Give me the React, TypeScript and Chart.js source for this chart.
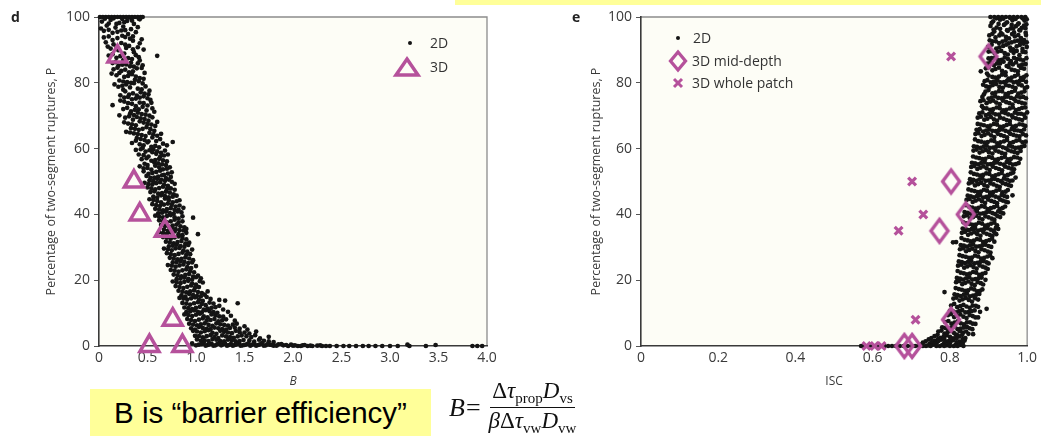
import React, { useEffect, useRef } from 'react';
import { Chart, registerables } from 'chart.js';

Chart.register(...registerables);

const MAGENTA = '#b5519b';
const DOT = '#141414';

// ---------- Panel d : P versus B ----------
const dXTicks = [0, 0.5, 1.0, 1.5, 2.0, 2.5, 3.0, 3.5, 4.0];
const yTicks = [0, 20, 40, 60, 80, 100];

const d2D: [number, number][] = [
  [0.01,100],[0.04,100],[0.07,100],[0.1,100],[0.13,100],[0.16,100],[0.19,100],[0.22,100],[0.25,100],[0.28,100],[0.31,100],[0.34,100],[0.37,100],[0.4,100],[0.43,100],[0.45,100],
  [0.03,98.6],[0.12,99.1],[0.21,98.2],[0.29,98.8],[0.36,97.9],[0.42,99.3],[0.08,97.4],[0.17,96.8],[0.25,97.1],[0.33,96.3],[0.4,96.9],[0.05,95.8],[0.14,95.2],[0.23,95.9],[0.3,94.8],[0.38,95.4],
  [0.1,94.1],[0.19,93.6],[0.27,93.9],[0.35,92.8],[0.44,93.2],[0.07,92.3],[0.15,91.7],[0.23,92.1],[0.31,91.2],[0.4,90.8],[0.12,90.4],[0.2,89.9],[0.28,90.6],[0.36,89.3],[0.46,90.1],[0.6,88.2],
  [0.14,88.7],[0.22,88.1],[0.3,87.5],[0.38,88.4],[0.25,86.9],[0.17,86.3],[0.33,86.1],[0.42,86.8],[0.2,85.2],[0.28,85.6],[0.36,84.9],[0.45,85.3],
  [0.15,84.1],[0.23,83.6],[0.31,83.2],[0.39,84.4],[0.47,83.0],[0.18,82.3],[0.26,81.8],[0.34,82.6],[0.42,81.4],[0.21,80.7],[0.29,80.2],[0.37,80.9],[0.45,79.8],[0.16,79.5],
  [0.24,79.1],[0.32,78.6],[0.4,78.2],[0.48,78.9],[0.27,77.4],[0.35,76.8],[0.43,77.1],[0.51,76.5],[0.22,76.2],[0.3,75.7],[0.38,75.2],[0.46,75.9],[0.53,74.8],
  [0.14,73.2],[0.26,74.3],[0.34,73.6],[0.42,74.0],[0.5,73.1],[0.29,72.4],[0.37,71.8],[0.45,72.7],[0.55,72.2],[0.21,70.1],[0.32,70.6],[0.4,70.9],[0.48,70.3],[0.57,71.2],
  [0.27,69.4],[0.35,68.8],[0.43,69.2],[0.51,68.5],[0.3,67.6],[0.38,67.1],[0.46,67.9],[0.54,67.3],[0.6,68.1],[0.33,66.2],[0.41,65.7],[0.49,66.5],[0.57,65.4],[0.28,65.1],
  [0.36,64.6],[0.44,64.1],[0.52,64.8],[0.6,63.9],[0.39,63.2],[0.47,62.6],[0.55,63.4],[0.63,62.9],[0.76,62.0],[0.34,61.7],[0.42,61.3],[0.5,61.9],[0.58,60.8],[0.66,61.5],[0.45,60.2],
  [0.38,59.6],[0.48,59.1],[0.56,59.8],[0.64,58.7],[0.41,58.2],[0.51,57.6],[0.59,58.4],[0.67,57.9],[0.44,56.8],[0.54,56.3],[0.62,56.9],[0.7,56.1],[0.47,55.4],[0.57,55.8],[0.65,55.2],
  [0.42,54.6],[0.5,54.1],[0.58,54.8],[0.66,53.7],[0.73,54.3],[0.46,53.1],[0.55,52.6],[0.63,53.3],[0.71,52.4],[0.49,51.7],[0.57,51.2],[0.65,51.9],[0.74,51.4],[0.52,50.3],[0.6,50.8],[0.68,50.2],
  [0.47,49.6],[0.55,49.1],[0.63,49.8],[0.71,48.7],[0.78,49.3],[0.5,48.2],[0.58,47.6],[0.66,48.4],[0.74,47.9],[0.53,46.8],[0.61,46.3],[0.69,46.9],[0.77,46.1],[0.56,45.4],[0.64,45.8],[0.72,45.2],[0.8,45.7],
  [0.52,44.6],[0.6,44.1],[0.68,44.8],[0.76,43.7],[0.83,44.3],[0.55,43.1],[0.63,42.6],[0.71,43.3],[0.79,42.4],[0.58,41.7],[0.66,41.2],[0.74,41.9],[0.82,41.4],[0.87,42.0],[0.61,40.3],[0.69,40.8],[0.77,40.2],[0.85,40.6],
  [0.58,39.6],[0.66,39.1],[0.74,39.8],[0.82,38.7],[0.97,39.0],[0.62,38.2],[0.7,37.6],[0.78,38.4],[0.86,37.9],[0.64,36.8],[0.72,36.3],[0.8,36.9],[0.88,36.1],[0.67,35.4],[0.75,35.8],[0.83,35.2],[0.9,35.6],
  [0.62,34.6],[0.7,34.1],[0.78,34.8],[0.86,33.7],[1.02,34.0],[0.66,33.1],[0.74,32.6],[0.82,33.3],[0.9,32.4],[0.69,31.7],[0.77,31.2],[0.85,31.9],[0.93,31.4],[0.72,30.3],[0.8,30.8],[0.88,30.2],
  [0.67,29.6],[0.75,29.1],[0.83,29.8],[0.91,28.7],[0.96,29.3],[0.7,28.2],[0.78,27.6],[0.86,28.4],[0.94,27.9],[0.73,26.8],[0.81,26.3],[0.89,26.9],[0.97,26.1],[0.76,25.4],[0.84,25.8],[0.92,25.2],
  [0.71,24.6],[0.79,24.1],[0.87,24.8],[0.95,23.7],[1.0,24.3],[0.74,23.1],[0.82,22.6],[0.9,23.3],[0.98,22.4],[0.77,21.7],[0.85,21.2],[0.93,21.9],[1.02,21.4],[0.8,20.3],[0.88,20.8],[0.96,20.2],[1.05,20.6],
  [0.76,19.6],[0.84,19.1],[0.92,19.8],[1.0,18.7],[1.07,19.3],[0.79,18.2],[0.87,17.6],[0.95,18.4],[1.03,17.9],[0.82,16.8],[0.9,16.3],[0.98,16.9],[1.06,16.1],[1.12,16.6],[0.85,15.4],[0.93,15.8],[1.01,15.2],[1.09,15.6],
  [0.83,14.6],[0.91,14.1],[0.99,14.8],[1.07,13.7],[1.15,14.3],[1.3,13.8],[1.43,13.0],[1.24,14.0],[0.86,13.1],[0.94,12.6],[1.02,13.3],[1.1,12.4],[1.18,12.9],[0.88,11.7],[0.96,11.2],[1.04,11.9],[1.12,11.4],[1.2,11.8],[1.28,11.1],[0.9,10.3],[0.98,10.8],[1.06,10.2],[1.14,10.6],[1.22,10.1],[1.33,10.4],
  [0.88,9.6],[0.96,9.1],[1.04,9.8],[1.12,8.7],[1.2,9.3],[1.28,8.9],[1.36,9.2],[0.91,8.2],[0.99,7.6],[1.07,8.4],[1.15,7.9],[1.23,7.5],[1.31,8.1],[1.4,7.7],[0.93,6.8],[1.01,6.3],[1.09,6.9],[1.17,6.1],[1.25,6.6],[1.33,6.2],[1.42,6.8],[1.5,6.0],[0.95,5.4],[1.03,5.8],[1.11,5.2],[1.19,5.6],[1.27,5.1],[1.35,5.5],[1.45,5.3],[1.53,5.0],
  [0.97,4.6],[1.05,4.1],[1.13,4.8],[1.21,3.7],[1.29,4.3],[1.37,3.9],[1.45,4.2],[1.55,3.8],[1.62,4.4],[0.99,3.1],[1.07,2.6],[1.15,3.3],[1.23,2.4],[1.31,2.9],[1.39,2.5],[1.47,3.2],[1.57,2.7],[1.66,2.3],[1.75,2.8],[1.01,2.0],[1.09,1.7],[1.17,2.1],[1.25,1.5],[1.33,1.9],[1.41,1.4],[1.49,1.8],[1.6,1.3],[1.7,1.6],[1.8,1.2],
  [0.96,0.8],[1.03,0.4],[1.08,1.0],[1.12,0.3],[1.16,0.7],[1.2,0.2],[1.24,0.9],[1.28,0.5],[1.32,0.1],[1.36,0.6],[1.4,0.3],[1.44,0.8],[1.48,0.2],[1.52,0.5],[1.56,0.1],[1.6,0.7],[1.64,0.3],[1.68,0.9],[1.72,0.2],[1.76,0.4],[1.8,0.1],[1.85,0.5],[1.9,0.2],[1.95,0],[2.0,0.1],[2.05,0],[2.1,0.2],[2.15,0],[2.2,0],[2.25,0.1],[2.3,0],
  [2.38,0],[2.45,0],[2.52,0],[2.58,0],[2.65,0],[2.72,0],[2.78,0],[2.85,0],[2.92,0],[3.0,0],[3.08,0],[3.18,0.4],[3.2,0],[3.37,0],[3.47,0.3],[3.85,0],[3.9,0],[3.95,0],
];

// more 2D runs of panel d, read from the denser parts of the cloud
const d2Dmore: [number, number][] = [
  [0.06,99.5],[0.15,99.6],[0.24,99.4],[0.33,99.7],[0.41,99.5],[0.1,98.0],[0.18,97.9],[0.26,98.4],[0.34,98.9],[0.02,96.5],
  [0.1,96.1],[0.19,95.5],[0.27,96.0],[0.35,94.1],[0.05,93.8],[0.14,93.0],[0.24,94.3],[0.32,93.4],[0.42,92.0],[0.09,91.0],[0.18,90.9],[0.27,91.6],[0.35,90.2],
  [0.1,88.3],[0.18,87.6],[0.26,88.9],[0.34,87.2],[0.41,87.8],[0.14,86.0],[0.24,85.5],[0.32,85.0],[0.4,85.9],[0.19,84.6],[0.27,84.0],[0.35,83.5],[0.44,84.5],[0.13,82.8],[0.21,83.0],[0.3,82.1],[0.38,81.9],[0.46,81.2],[0.25,80.4],[0.33,80.0],[0.41,80.5],
  [0.2,78.8],[0.28,79.5],[0.36,79.9],[0.44,78.0],[0.52,77.6],[0.25,77.9],[0.31,76.4],[0.39,76.1],[0.47,76.7],[0.26,75.5],[0.34,75.0],[0.42,75.5],[0.5,75.3],[0.22,74.6],[0.3,73.8],[0.38,72.9],[0.46,73.8],[0.54,73.9],[0.25,72.0],[0.33,71.3],[0.41,71.9],[0.49,71.6],[0.36,70.2],[0.44,70.5],[0.52,70.0],
  [0.31,69.8],[0.39,69.6],[0.47,69.0],[0.55,69.5],[0.26,68.0],[0.34,67.4],[0.42,68.3],[0.5,67.5],[0.58,66.9],[0.37,66.0],[0.45,66.0],[0.53,65.9],[0.32,64.9],[0.4,64.4],[0.48,63.8],[0.56,64.3],[0.64,64.5],[0.43,62.9],[0.51,62.2],[0.59,62.3],[0.38,62.4],[0.46,61.0],[0.54,60.5],[0.62,60.4],[0.7,61.0],
  [0.43,59.8],[0.52,59.5],[0.6,59.2],[0.68,59.4],[0.46,58.0],[0.55,58.9],[0.63,57.5],[0.71,58.2],[0.49,57.1],[0.58,56.5],[0.66,56.4],[0.5,55.0],[0.61,55.5],[0.69,55.0],[0.46,54.0],[0.54,53.6],[0.62,54.3],[0.7,53.9],[0.51,52.3],[0.59,52.9],[0.67,52.0],[0.75,52.8],[0.53,51.1],[0.61,51.5],[0.69,51.0],[0.56,50.1],[0.64,50.5],[0.72,50.6],
  [0.51,49.2],[0.59,49.5],[0.67,49.0],[0.75,49.9],[0.54,47.9],[0.62,48.0],[0.7,47.7],[0.78,47.5],[0.57,47.0],[0.65,46.5],[0.73,46.6],[0.6,45.1],[0.68,45.6],[0.76,45.4],[0.56,44.4],[0.64,43.7],[0.72,44.3],[0.8,44.0],[0.59,42.8],[0.67,43.0],[0.75,42.9],[0.83,42.7],[0.62,41.5],[0.7,41.6],[0.78,41.3],[0.65,40.5],[0.73,40.4],[0.81,40.9],
  [0.62,39.3],[0.7,39.5],[0.78,39.1],[0.86,39.4],[0.66,38.0],[0.74,37.9],[0.82,37.5],[0.68,36.5],[0.76,36.6],[0.84,36.4],[0.71,35.0],[0.79,35.5],[0.87,35.1],[0.66,34.3],[0.74,34.5],[0.82,34.0],[0.9,34.4],[0.7,32.9],[0.78,33.0],[0.86,32.8],[0.73,31.5],[0.81,31.6],[0.89,31.1],[0.76,30.5],[0.84,30.4],[0.92,30.7],
  [0.71,29.4],[0.79,29.7],[0.87,29.0],[0.74,27.9],[0.82,28.0],[0.9,27.7],[0.77,26.6],[0.85,26.5],[0.93,26.6],[0.8,25.5],[0.88,25.6],[0.96,25.4],[0.75,24.4],[0.83,24.5],[0.91,24.0],[0.78,22.9],[0.86,23.0],[0.94,22.8],[0.81,21.5],[0.89,21.6],[0.97,21.1],[0.84,20.5],[0.92,20.4],[1.0,20.9],
  [0.8,19.4],[0.88,19.5],[0.96,19.0],[1.04,19.7],[0.83,17.9],[0.91,18.0],[0.99,17.7],[0.86,16.5],[0.94,16.6],[1.02,16.4],[0.89,15.0],[0.97,15.5],[1.05,15.1],[0.87,14.4],[0.95,14.5],[1.03,14.0],[1.11,14.9],[0.9,12.9],[0.98,13.0],[1.06,12.8],[1.14,13.2],[0.92,11.5],[1.0,11.6],[1.08,11.1],[1.16,11.6],[1.24,12.2],[0.94,10.5],[1.02,10.4],[1.1,10.9],[1.18,10.3],
  [0.92,9.4],[1.0,9.5],[1.08,9.0],[1.16,9.6],[1.24,9.0],[0.95,7.9],[1.03,8.0],[1.11,7.7],[1.19,8.2],[1.27,7.8],[0.97,6.5],[1.05,6.6],[1.13,6.4],[1.21,6.9],[1.29,6.4],[1.38,6.5],[0.99,5.0],[1.07,5.5],[1.15,5.1],[1.23,5.4],[1.31,5.0],[1.4,5.6],
  [1.01,4.4],[1.09,4.5],[1.17,4.0],[1.25,4.6],[1.33,4.1],[1.41,4.6],[1.5,4.1],[1.03,3.0],[1.11,3.0],[1.19,2.7],[1.27,3.2],[1.35,2.7],[1.43,2.9],[1.52,3.0],[1.61,3.3],[1.05,1.6],[1.13,1.5],[1.21,1.9],[1.29,1.4],[1.37,1.7],[1.45,1.5],[1.55,1.7],[1.65,1.9],[1.75,1.4],
  [1.0,0.2],[1.06,0.6],[1.1,0.1],[1.14,0.5],[1.18,0.1],[1.22,0.6],[1.26,0.2],[1.3,0.7],[1.34,0.3],[1.38,0.1],[1.42,0.5],[1.46,0.1],[1.5,0.3],[1.54,0.8],[1.58,0.4],[1.62,0.1],[1.66,0.5],[1.7,0.1],[1.74,0.6],[1.78,0.3],[1.83,0.1],[1.88,0.6],[1.93,0.3],[1.98,0.4],[2.02,0.2],[2.08,0],[2.12,0.3],[2.18,0.1],[2.28,0.2],[2.34,0],
];

const d3D_B = [0.19, 0.36, 0.42, 0.68, 0.76, 0.52, 0.86];
const d3D_P = [88, 50, 40, 35, 8, 0, 0];

// ---------- Panel e : P versus ISC ----------
const eXTicks = [0, 0.2, 0.4, 0.6, 0.8, 1.0];

const e2D: [number, number][] = [
  [0.905,100],[0.915,100],[0.925,100],[0.935,100],[0.945,100],[0.955,100],[0.965,100],[0.975,100],[0.985,100],[0.995,100],
  [0.912,98.7],[0.93,99.2],[0.948,98.4],[0.962,99.0],[0.978,98.1],[0.993,98.9],[0.905,97.3],[0.921,96.8],[0.94,97.6],[0.957,96.5],[0.971,97.2],[0.986,96.7],[0.998,97.8],[0.915,95.6],[0.932,95.1],[0.95,95.8],[0.966,95.3],[0.982,95.9],[0.996,95.2],
  [0.902,94.4],[0.918,93.8],[0.936,94.7],[0.953,93.5],[0.968,94.1],[0.984,93.6],[0.997,94.5],[0.91,92.6],[0.927,92.1],[0.944,92.9],[0.96,92.3],[0.976,92.8],[0.991,91.9],[0.899,90.9],[0.92,90.4],[0.938,91.2],[0.956,90.7],[0.973,91.1],[0.988,90.3],[0.999,90.9],
  [0.9,89.5],[0.916,88.9],[0.933,89.7],[0.95,88.6],[0.965,89.1],[0.98,88.4],[0.995,89.3],[0.908,87.5],[0.925,86.9],[0.942,87.7],[0.958,86.6],[0.974,87.2],[0.99,86.8],[0.897,85.8],[0.914,85.3],[0.93,85.9],[0.947,85.1],[0.963,85.6],[0.979,85.2],[0.996,85.7],[0.88,83.5],
  [0.893,84.4],[0.91,83.8],[0.927,84.6],[0.944,83.2],[0.96,84.0],[0.976,83.5],[0.992,84.3],[0.9,82.2],[0.918,81.6],[0.935,82.5],[0.952,81.3],[0.968,82.0],[0.984,81.5],[0.998,82.3],[0.89,80.5],[0.906,80.1],[0.923,80.8],[0.94,80.2],[0.957,80.7],[0.973,80.3],[0.989,80.9],
  [0.886,79.4],[0.903,78.8],[0.92,79.6],[0.937,78.5],[0.953,79.1],[0.97,78.4],[0.986,79.2],[1.0,78.7],[0.892,77.3],[0.91,76.8],[0.927,77.5],[0.944,76.6],[0.96,77.2],[0.977,76.7],[0.993,77.4],[0.884,75.7],[0.9,75.2],[0.917,75.9],[0.934,75.3],[0.95,75.8],[0.966,75.1],[0.982,75.6],[0.997,75.3],
  [0.879,74.4],[0.895,73.8],[0.912,74.6],[0.929,73.5],[0.946,74.1],[0.962,73.4],[0.978,74.2],[0.994,73.7],[0.887,72.3],[0.904,71.8],[0.921,72.5],[0.938,71.6],[0.955,72.2],[0.971,71.7],[0.987,72.4],[0.876,70.7],[0.893,70.2],[0.91,70.9],[0.927,70.3],[0.943,70.8],[0.96,70.1],[0.976,70.6],[0.992,70.3],[1.0,71.0],
  [0.872,69.4],[0.889,68.8],[0.906,69.6],[0.922,68.5],[0.939,69.1],[0.955,68.4],[0.971,69.2],[0.987,68.7],[0.88,67.3],[0.897,66.8],[0.914,67.5],[0.93,66.6],[0.947,67.2],[0.963,66.7],[0.98,67.4],[0.995,66.9],[0.869,65.7],[0.886,65.2],[0.902,65.9],[0.919,65.3],[0.936,65.8],[0.952,65.1],[0.968,65.6],[0.984,65.3],
  [0.866,64.4],[0.882,63.8],[0.899,64.6],[0.915,63.5],[0.932,64.1],[0.948,63.4],[0.964,64.2],[0.98,63.7],[0.997,64.0],[0.873,62.3],[0.89,61.8],[0.907,62.5],[0.923,61.6],[0.94,62.2],[0.956,61.7],[0.972,62.4],[0.988,61.9],[0.862,60.7],[0.879,60.2],[0.895,60.9],[0.912,60.3],[0.928,60.8],[0.945,60.1],[0.961,60.6],[0.977,60.3],[0.993,60.8],
  [0.861,59.4],[0.877,58.8],[0.893,59.6],[0.91,58.5],[0.926,59.1],[0.943,58.4],[0.959,59.2],[0.975,58.7],[0.868,57.3],[0.884,56.8],[0.901,57.5],[0.917,56.6],[0.934,57.2],[0.95,56.7],[0.966,57.4],[0.982,56.9],[0.857,55.7],[0.873,55.2],[0.89,55.9],[0.906,55.3],[0.922,55.8],[0.939,55.1],[0.955,55.6],[0.971,55.3],
  [0.855,54.4],[0.871,53.8],[0.887,54.6],[0.903,53.5],[0.919,54.1],[0.935,53.4],[0.951,54.2],[0.966,53.7],[0.862,52.3],[0.878,51.8],[0.894,52.5],[0.91,51.6],[0.926,52.2],[0.942,51.7],[0.958,52.4],[0.97,51.2],[0.852,50.7],[0.868,50.2],[0.884,50.9],[0.9,50.3],[0.916,50.8],[0.932,50.1],[0.948,50.6],[0.962,50.3],
  [0.849,49.4],[0.865,48.8],[0.881,49.6],[0.897,48.5],[0.913,49.1],[0.929,48.4],[0.945,49.2],[0.958,48.7],[0.856,47.3],[0.872,46.8],[0.888,47.5],[0.904,46.6],[0.92,47.2],[0.936,46.7],[0.95,47.4],[0.962,45.8],[0.846,45.7],[0.862,45.2],[0.878,45.9],[0.894,45.3],[0.91,45.8],[0.926,45.1],[0.941,45.6],
  [0.843,44.4],[0.859,43.8],[0.875,44.6],[0.891,43.5],[0.907,44.1],[0.922,43.4],[0.937,44.2],[0.95,43.7],[0.85,42.3],[0.866,41.8],[0.882,42.5],[0.898,41.6],[0.914,42.2],[0.929,41.7],[0.943,42.4],[0.838,40.7],[0.854,40.2],[0.87,40.9],[0.886,40.3],[0.902,40.8],[0.917,40.1],[0.932,40.6],
  [0.836,39.4],[0.852,38.8],[0.868,39.6],[0.884,38.5],[0.9,39.1],[0.915,38.4],[0.93,39.2],[0.843,37.3],[0.859,36.8],[0.875,37.5],[0.891,36.6],[0.907,37.2],[0.922,36.7],[0.833,35.7],[0.849,35.2],[0.865,35.9],[0.881,35.3],[0.897,35.8],[0.912,35.1],[0.925,35.6],
  [0.831,34.4],[0.847,33.8],[0.863,34.6],[0.879,33.5],[0.895,34.1],[0.91,33.4],[0.92,34.0],[0.838,32.3],[0.854,31.8],[0.87,32.5],[0.886,31.6],[0.902,32.2],[0.915,31.7],[0.828,30.7],[0.844,30.2],[0.86,30.9],[0.876,30.3],[0.892,30.8],[0.907,30.1],[0.816,31.6],[0.808,31.5],
  [0.826,29.4],[0.842,28.8],[0.858,29.6],[0.874,28.5],[0.89,29.1],[0.905,28.4],[0.833,27.3],[0.849,26.8],[0.865,27.5],[0.881,26.6],[0.897,27.2],[0.91,26.7],[0.823,25.7],[0.839,25.2],[0.855,25.9],[0.871,25.3],[0.887,25.8],[0.9,25.1],
  [0.821,24.4],[0.837,23.8],[0.853,24.6],[0.869,23.5],[0.885,24.1],[0.898,23.4],[0.828,22.3],[0.844,21.8],[0.86,22.5],[0.876,21.6],[0.892,22.2],[0.818,20.7],[0.834,20.2],[0.85,20.9],[0.866,20.3],[0.882,20.8],[0.892,20.1],
  [0.816,19.4],[0.832,18.8],[0.848,19.6],[0.864,18.5],[0.88,19.1],[0.823,17.3],[0.839,16.8],[0.855,17.5],[0.871,16.6],[0.884,17.2],[0.812,15.7],[0.828,15.2],[0.844,15.9],[0.86,15.3],[0.876,15.8],[0.786,16.4],[0.895,11.3],
  [0.809,14.4],[0.825,13.8],[0.841,14.6],[0.857,13.5],[0.873,14.1],[0.803,12.3],[0.819,11.8],[0.835,12.5],[0.851,11.6],[0.867,12.2],[0.8,10.7],[0.816,10.2],[0.832,10.9],[0.848,10.3],[0.864,10.8],[0.878,10.4],
  [0.795,9.4],[0.811,8.8],[0.827,9.6],[0.843,8.5],[0.859,9.1],[0.873,8.7],[0.788,7.3],[0.804,6.8],[0.82,7.5],[0.836,6.6],[0.852,7.2],[0.866,6.7],[0.78,5.7],[0.796,5.2],[0.812,5.9],[0.828,5.3],[0.844,5.8],[0.858,5.1],[0.86,3.6],
  [0.77,4.4],[0.786,3.8],[0.802,4.6],[0.818,3.5],[0.834,4.1],[0.848,3.7],[0.76,3.0],[0.776,2.5],[0.792,3.2],[0.808,2.3],[0.824,2.9],[0.84,2.4],[0.745,2.0],[0.761,1.6],[0.777,1.9],[0.793,1.4],[0.809,1.8],[0.825,1.3],[0.838,1.7],
  [0.73,1.0],[0.748,0.7],[0.766,1.1],[0.784,0.6],[0.8,0.9],[0.816,0.5],[0.832,0.8],[0.72,0.3],[0.738,0],[0.756,0.4],[0.774,0],[0.792,0.2],[0.81,0],[0.828,0.3],[0.835,0],
  [0.57,0],[0.58,0],[0.59,0],[0.6,0],[0.61,0],[0.62,0],[0.63,0],[0.64,0],[0.65,0],[0.66,0],[0.67,0],[0.68,0],[0.69,0],[0.7,0],[0.71,0],[0.72,0],
];

// more 2D runs of panel e, read from the denser parts of the cloud
const e2Dmore: [number, number][] = [
  [0.92,99.6],[0.938,99.5],[0.956,99.7],[0.97,99.4],[0.988,99.6],[0.999,99.3],[0.908,98.2],[0.926,97.9],[0.944,98.0],[0.96,97.6],[0.976,97.8],[0.992,97.4],[0.913,96.2],[0.93,96.4],[0.948,96.0],[0.964,96.5],[0.98,96.0],[0.995,96.6],
  [0.91,94.9],[0.928,94.4],[0.945,94.0],[0.961,94.8],[0.977,94.5],[0.992,93.0],[0.903,92.9],[0.919,92.6],[0.936,92.5],[0.952,92.0],[0.968,92.6],[0.984,92.4],[0.999,92.3],[0.908,91.6],[0.928,90.8],[0.946,91.6],[0.964,90.2],[0.981,91.5],
  [0.907,89.6],[0.924,89.5],[0.942,89.0],[0.958,89.8],[0.973,89.7],[0.988,89.4],[0.9,87.4],[0.917,87.6],[0.934,87.0],[0.95,87.3],[0.966,87.6],[0.982,87.1],[0.998,87.5],[0.905,86.3],[0.922,85.9],[0.939,86.4],[0.955,85.9],[0.971,86.2],[0.987,85.5],
  [0.9,84.7],[0.918,84.2],[0.935,83.6],[0.952,84.8],[0.968,83.8],[0.984,84.5],[0.896,82.8],[0.91,81.8],[0.927,81.9],[0.944,82.3],[0.96,81.6],[0.976,82.5],[0.992,81.8],[0.897,80.8],[0.914,80.4],[0.931,80.1],[0.948,80.6],[0.965,80.1],[0.981,80.6],[0.997,80.3],
  [0.894,78.9],[0.911,79.3],[0.928,78.7],[0.945,79.3],[0.962,78.8],[0.978,79.5],[0.994,78.4],[0.9,77.8],[0.918,77.0],[0.935,77.4],[0.952,76.9],[0.968,77.6],[0.985,77.0],[0.888,76.5],[0.908,75.5],[0.925,75.4],[0.942,75.6],[0.958,75.4],[0.974,75.9],[0.99,75.7],
  [0.887,74.7],[0.904,74.3],[0.92,74.0],[0.937,74.6],[0.954,73.8],[0.97,74.5],[0.986,73.9],[0.883,72.9],[0.895,72.2],[0.912,72.0],[0.929,72.3],[0.946,71.8],[0.963,72.5],[0.979,72.0],[0.995,72.5],[0.884,71.0],[0.901,70.5],[0.918,70.4],[0.935,71.1],[0.951,70.4],[0.968,70.9],[0.984,70.6],
  [0.88,69.7],[0.897,69.1],[0.914,68.9],[0.93,69.4],[0.947,68.7],[0.963,69.5],[0.979,68.9],[0.995,69.4],[0.872,67.5],[0.888,67.1],[0.905,67.0],[0.922,67.3],[0.939,66.8],[0.955,67.5],[0.971,66.9],[0.988,67.3],[0.877,65.9],[0.894,65.5],[0.91,65.4],[0.927,65.6],[0.944,65.4],[0.96,65.9],[0.976,65.5],[0.992,65.8],
  [0.874,64.7],[0.89,64.2],[0.907,64.0],[0.924,64.5],[0.94,63.8],[0.956,64.5],[0.972,63.9],[0.989,64.4],[0.865,62.8],[0.881,62.1],[0.898,62.0],[0.915,62.3],[0.931,61.9],[0.948,62.6],[0.964,62.0],[0.98,62.6],[0.996,62.1],[0.87,60.5],[0.887,60.6],[0.903,60.2],[0.92,60.6],[0.937,60.4],[0.953,60.9],[0.969,60.2],[0.985,60.5],
  [0.869,59.7],[0.885,59.2],[0.901,58.9],[0.918,59.4],[0.934,58.7],[0.951,59.5],[0.967,58.9],[0.983,59.3],[0.86,57.6],[0.876,57.1],[0.892,56.9],[0.909,57.2],[0.925,56.8],[0.942,57.5],[0.958,56.9],[0.974,57.3],[0.865,55.5],[0.881,55.6],[0.898,55.2],[0.914,55.6],[0.93,55.4],[0.947,55.9],[0.963,55.1],[0.978,55.6],
  [0.863,54.7],[0.879,54.2],[0.895,54.0],[0.911,54.5],[0.927,53.8],[0.943,54.5],[0.959,53.9],[0.854,52.8],[0.87,52.1],[0.886,52.0],[0.902,52.3],[0.918,51.9],[0.934,52.6],[0.95,52.0],[0.964,52.7],[0.86,50.5],[0.876,50.6],[0.892,50.2],[0.908,50.6],[0.924,50.4],[0.94,50.9],[0.955,50.2],
  [0.857,49.7],[0.873,49.2],[0.889,48.9],[0.905,49.4],[0.921,48.7],[0.937,49.5],[0.952,48.9],[0.848,47.6],[0.864,47.1],[0.88,46.9],[0.896,47.2],[0.912,46.8],[0.928,47.5],[0.944,46.9],[0.854,45.5],[0.87,45.6],[0.886,45.1],[0.902,45.6],[0.918,45.4],[0.934,45.9],[0.948,45.3],
  [0.851,44.7],[0.867,44.2],[0.883,44.0],[0.899,44.5],[0.915,43.8],[0.93,44.5],[0.944,43.9],[0.842,42.8],[0.858,42.1],[0.874,42.0],[0.89,42.3],[0.906,41.9],[0.922,42.6],[0.937,42.0],[0.846,40.5],[0.862,40.6],[0.878,40.2],[0.894,40.6],[0.91,40.4],[0.925,40.9],[0.938,40.3],
  [0.844,39.7],[0.86,39.2],[0.876,38.9],[0.892,39.4],[0.908,38.7],[0.923,39.5],[0.835,37.6],[0.851,37.1],[0.867,36.9],[0.883,37.2],[0.899,36.8],[0.915,37.5],[0.841,35.5],[0.857,35.6],[0.873,35.1],[0.889,35.6],[0.905,35.4],[0.919,35.9],
  [0.839,34.7],[0.855,34.2],[0.871,34.0],[0.887,34.5],[0.903,33.8],[0.915,34.6],[0.83,32.8],[0.846,32.1],[0.862,32.0],[0.878,32.3],[0.894,31.9],[0.909,32.6],[0.836,30.5],[0.852,30.6],[0.868,30.2],[0.884,30.6],[0.9,30.4],
  [0.834,29.7],[0.85,29.2],[0.866,28.9],[0.882,29.4],[0.898,28.7],[0.825,27.6],[0.841,27.1],[0.857,26.9],[0.873,27.2],[0.889,26.8],[0.904,27.5],[0.831,25.5],[0.847,25.6],[0.863,25.1],[0.879,25.6],[0.895,25.4],
  [0.829,24.7],[0.845,24.2],[0.861,24.0],[0.877,24.5],[0.892,23.8],[0.82,22.8],[0.836,22.1],[0.852,22.0],[0.868,22.3],[0.884,21.9],[0.826,20.5],[0.842,20.6],[0.858,20.2],[0.874,20.6],
  [0.824,19.7],[0.84,19.2],[0.856,18.9],[0.872,19.4],[0.886,18.7],[0.815,17.6],[0.831,17.1],[0.847,16.9],[0.863,17.2],[0.878,16.8],[0.82,15.5],[0.836,15.6],[0.852,15.1],[0.868,15.6],
  [0.817,14.7],[0.833,14.2],[0.849,14.0],[0.865,14.5],[0.811,12.8],[0.827,12.1],[0.843,12.0],[0.859,12.3],[0.873,11.9],[0.808,10.5],[0.824,10.6],[0.84,10.2],[0.856,10.6],
  [0.803,9.7],[0.819,9.2],[0.835,8.9],[0.851,9.4],[0.866,8.7],[0.796,7.6],[0.812,7.1],[0.828,6.9],[0.844,7.2],[0.859,6.8],[0.788,5.5],[0.804,5.6],[0.82,5.1],[0.836,5.6],[0.851,5.4],
  [0.778,4.7],[0.794,4.2],[0.81,4.0],[0.826,4.5],[0.842,4.4],[0.768,3.4],[0.784,2.9],[0.8,2.8],[0.816,3.2],[0.832,3.4],[0.752,2.4],[0.769,2.1],[0.785,2.3],[0.801,1.9],[0.817,2.2],[0.833,2.1],
  [0.737,1.4],[0.753,1.2],[0.77,1.5],[0.786,1.2],[0.802,1.4],[0.818,1.0],[0.834,1.2],[0.728,0.6],[0.744,0.2],[0.762,0.8],[0.78,0.3],[0.797,0.6],[0.814,0.2],[0.83,0.6],[0.73,0],[0.75,0],[0.765,0],[0.785,0],[0.8,0],[0.82,0],
];

const eMid_ISC = [0.90, 0.803, 0.841, 0.773, 0.803, 0.682, 0.702];
const eMid_P = [88, 50, 40, 35, 8, 0, 0];
const eWhole_ISC = [0.803, 0.702, 0.731, 0.667, 0.711, 0.584, 0.605, 0.623];
const eWhole_P = [88, 50, 40, 35, 8, 0, 0, 0];

const FONT = '"Open Sans", "Noto Sans", sans-serif';

const framePlugin = {
  id: 'frame',
  beforeDraw(chart: any) {
    const { ctx, chartArea } = chart;
    const { left, top, right, bottom } = chartArea;
    ctx.save();
    ctx.fillStyle = '#fdfdf6';
    ctx.fillRect(left, top, right - left, bottom - top);
    ctx.strokeStyle = '#8c8c8c';
    ctx.lineWidth = 1.3;
    ctx.beginPath();
    ctx.moveTo(left, top);
    ctx.lineTo(right, top);
    ctx.lineTo(right, bottom);
    ctx.stroke();
    ctx.restore();
  },
};

function makeDiamond(): HTMLCanvasElement {
  const c = document.createElement('canvas');
  c.width = 24;
  c.height = 30;
  const g = c.getContext('2d')!;
  g.strokeStyle = MAGENTA;
  g.lineWidth = 3.4;
  g.lineJoin = 'miter';
  g.beginPath();
  g.moveTo(12, 3.5);
  g.lineTo(20.5, 15);
  g.lineTo(12, 26.5);
  g.lineTo(3.5, 15);
  g.closePath();
  g.stroke();
  return c;
}

function buildOptions(opts: {
  xMin: number; xMax: number; xTicks: number[];
  yAxisWidth: number; rightPad: number; yTitlePad: number;
  xTitle: string; xTitleItalic: boolean;
}) {
  const fmt = (v: any) => {
    const n = Number(v);
    return n === 0 ? '0' : n.toFixed(1);
  };
  return {
    responsive: false,
    animation: false as const,
    events: [] as any[],
    layout: { padding: { left: 0, top: 17, right: opts.rightPad, bottom: 0 } },
    plugins: { legend: { display: false }, tooltip: { enabled: false } },
    scales: {
      x: {
        type: 'linear' as const,
        min: opts.xMin,
        max: opts.xMax,
        afterBuildTicks: (s: any) => { s.ticks = opts.xTicks.map((v) => ({ value: v })); },
        afterFit: (s: any) => { s.height = 54; },
        border: { display: true, color: '#3a3a3a', width: 1.6 },
        grid: { display: true, drawOnChartArea: false, drawTicks: false },
        ticks: {
          color: '#3a3a3a',
          font: { family: FONT, size: 14 },
          padding: 4,
          maxRotation: 0,
          autoSkip: false,
          callback: fmt,
        },
        title: {
          display: true,
          text: opts.xTitle,
          color: '#3a3a3a',
          font: { family: FONT, size: 12, style: opts.xTitleItalic ? ('italic' as const) : ('normal' as const) },
          padding: { top: 0, bottom: 10.8 },
        },
      },
      y: {
        type: 'linear' as const,
        min: 0,
        max: 100,
        afterBuildTicks: (s: any) => { s.ticks = yTicks.map((v) => ({ value: v })); },
        afterFit: (s: any) => { s.width = opts.yAxisWidth; },
        border: { display: true, color: '#3a3a3a', width: 1.6 },
        grid: { display: true, drawOnChartArea: false, drawTicks: true, tickLength: 5, color: '#555' },
        ticks: {
          color: '#3a3a3a',
          font: { family: FONT, size: 14 },
          padding: 4,
          autoSkip: false,
        },
        title: {
          display: true,
          text: 'Percentage of two-segment ruptures, P',
          color: '#3a3a3a',
          font: { family: FONT, size: 12.5 },
          padding: { top: opts.yTitlePad, bottom: 0 },
        },
      },
    },
  };
}

export default function App() {
  const dRef = useRef<HTMLCanvasElement | null>(null);
  const eRef = useRef<HTMLCanvasElement | null>(null);

  useEffect(() => {
    const diamond = makeDiamond();
    const dots = (pts: [number, number][]) => pts.map(([x, y]) => ({ x, y }));
    const dotStyle = {
      pointStyle: 'circle',
      pointRadius: 2.35,
      borderWidth: 0,
      backgroundColor: DOT,
      clip: false,
    };

    const chartD = new Chart(dRef.current!, {
      type: 'scatter',
      data: {
        datasets: [
          {
            label: '3D',
            data: d3D_B.map((b, i) => ({ x: b, y: d3D_P[i] })),
            pointStyle: 'triangle',
            pointRadius: 11,
            borderColor: MAGENTA,
            backgroundColor: 'rgba(0,0,0,0)',
            borderWidth: 3.5,
            clip: false,
          } as any,
          { label: '2D', data: dots(d2D.concat(d2Dmore)), ...dotStyle } as any,
        ],
      },
      options: buildOptions({
        xMin: 0, xMax: 4, xTicks: dXTicks,
        yAxisWidth: 99, rightPad: 520 - 487, yTitlePad: 44,
        xTitle: 'B', xTitleItalic: true,
      }) as any,
      plugins: [framePlugin],
    });

    const chartE = new Chart(eRef.current!, {
      type: 'scatter',
      data: {
        datasets: [
          {
            label: '3D mid-depth',
            data: eMid_ISC.map((v, i) => ({ x: v, y: eMid_P[i] })),
            pointStyle: diamond,
            pointRadius: 10,
            clip: false,
          } as any,
          {
            label: '3D whole patch',
            data: eWhole_ISC.map((v, i) => ({ x: v, y: eWhole_P[i] })),
            pointStyle: 'crossRot',
            pointRadius: 5.5,
            borderColor: MAGENTA,
            borderWidth: 3.2,
            clip: false,
          } as any,
          { label: '2D', data: dots(e2D.concat(e2Dmore)), ...dotStyle } as any,
        ],
      },
      options: buildOptions({
        xMin: 0, xMax: 1, xTicks: eXTicks,
        yAxisWidth: 121, rightPad: 13, yTitlePad: 69,
        xTitle: 'ISC', xTitleItalic: false,
      }) as any,
      plugins: [framePlugin],
    });

    return () => {
      chartD.destroy();
      chartE.destroy();
    };
  }, []);

  const legendText: React.CSSProperties = {
    position: 'absolute',
    fontFamily: FONT,
    fontSize: 14,
    lineHeight: '20px',
    color: '#333',
    whiteSpace: 'nowrap',
  };
  const sub: React.CSSProperties = { fontSize: 15, position: 'relative', top: 5 };

  return (
    <div style={{ position: 'fixed', left: 0, top: 0, width: 1041, height: 436, background: '#fff', overflow: 'hidden' }}>
      <div style={{ position: 'absolute', left: 455, top: 0, width: 586, height: 5, background: '#ffff99' }} />

      <canvas ref={dRef} width={520} height={400} style={{ position: 'absolute', left: 0, top: 0, width: 520, height: 400 }} />
      <canvas ref={eRef} width={521} height={400} style={{ position: 'absolute', left: 520, top: 0, width: 521, height: 400 }} />

      <div style={{ position: 'absolute', left: 11, top: 9, fontFamily: FONT, fontWeight: 700, fontSize: 14, lineHeight: '16px', color: '#222' }}>d</div>
      <div style={{ position: 'absolute', left: 572, top: 9, fontFamily: FONT, fontWeight: 700, fontSize: 14, lineHeight: '16px', color: '#222' }}>e</div>

      {/* legend d */}
      <div style={{ position: 'absolute', left: 408, top: 41, width: 4.4, height: 4.4, borderRadius: '50%', background: DOT }} />
      <div style={{ ...legendText, left: 430, top: 33 }}>2D</div>
      <svg style={{ position: 'absolute', left: 392, top: 54 }} width={30} height={26}>
        <polygon points="15,5 26,21 4,21" fill="none" stroke={MAGENTA} strokeWidth={3.5} />
      </svg>
      <div style={{ ...legendText, left: 430, top: 57 }}>3D</div>

      {/* legend e */}
      <div style={{ position: 'absolute', left: 676, top: 36, width: 4.4, height: 4.4, borderRadius: '50%', background: DOT }} />
      <div style={{ ...legendText, left: 693, top: 28 }}>2D</div>
      <svg style={{ position: 'absolute', left: 668, top: 49 }} width={20} height={24}>
        <polygon points="10,3 17.5,12 10,21 2.5,12" fill="none" stroke={MAGENTA} strokeWidth={3.3} />
      </svg>
      <div style={{ ...legendText, left: 692, top: 51 }}>3D mid-depth</div>
      <svg style={{ position: 'absolute', left: 672, top: 77 }} width={12} height={12}>
        <line x1={2} y1={2} x2={10} y2={10} stroke={MAGENTA} strokeWidth={3} />
        <line x1={10} y1={2} x2={2} y2={10} stroke={MAGENTA} strokeWidth={3} />
      </svg>
      <div style={{ ...legendText, left: 692, top: 73 }}>3D whole patch</div>

      {/* caption box */}
      <div style={{ position: 'absolute', left: 90, top: 389, width: 341, height: 47, background: '#ffff99', display: 'flex', alignItems: 'center', justifyContent: 'center', fontFamily: '"Liberation Sans", Arial, sans-serif', fontSize: 29.5, color: '#000', whiteSpace: 'nowrap' }}>
        B is “barrier efficiency”
      </div>

      {/* formula */}
      <div style={{ position: 'absolute', left: 449, top: 379, display: 'flex', alignItems: 'center', fontFamily: '"Liberation Serif", "DejaVu Serif", serif', color: '#111', whiteSpace: 'nowrap' }}>
        <span style={{ fontStyle: 'italic', fontSize: 26 }}>B</span>
        <span style={{ fontSize: 26, margin: '0 6px 0 1px' }}>=</span>
        <div style={{ display: 'inline-flex', flexDirection: 'column', alignItems: 'center' }}>
          <div style={{ fontSize: 23, lineHeight: '23px', borderBottom: '1.5px solid #111', padding: '0 2px 2px 2px' }}>
            Δ<i>τ</i><span style={sub}>prop</span><i>D</i><span style={sub}>vs</span>
          </div>
          <div style={{ fontSize: 23, lineHeight: '26px', padding: '0 2px' }}>
            <i>β</i>Δ<i>τ</i><span style={sub}>vw</span><i>D</i><span style={sub}>vw</span>
          </div>
        </div>
      </div>
    </div>
  );
}
